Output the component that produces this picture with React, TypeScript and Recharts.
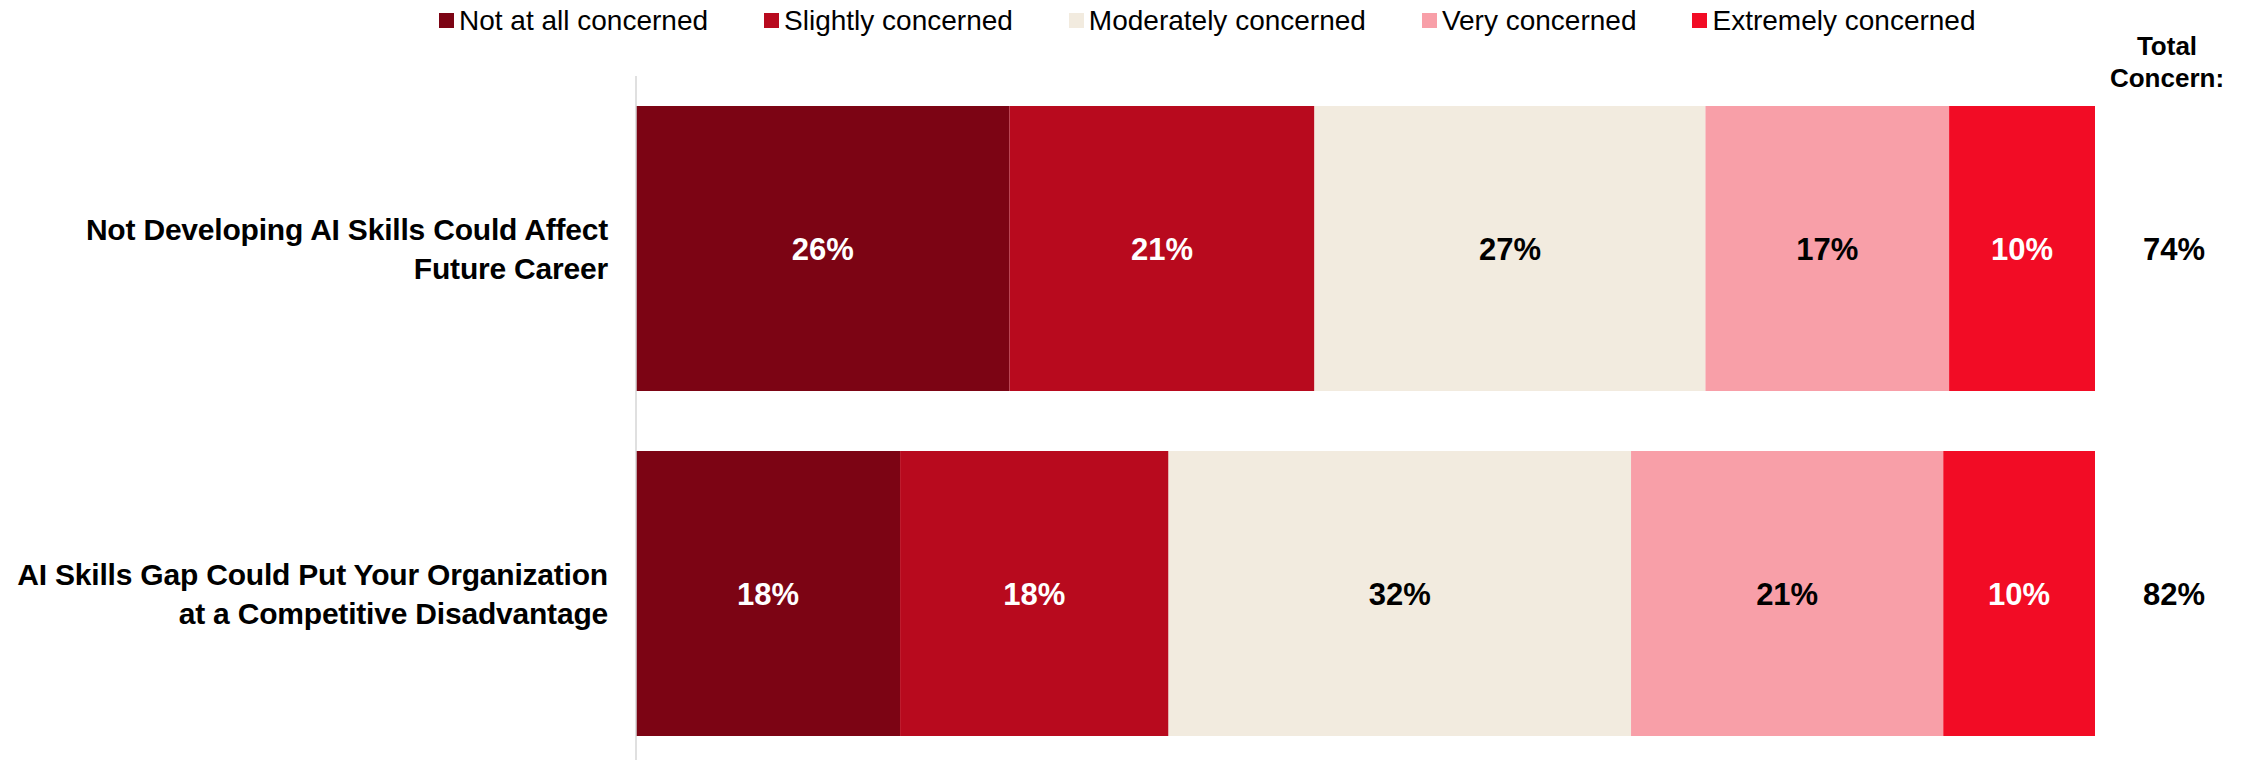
import React from 'react';
import { BarChart, Bar, XAxis, YAxis, LabelList } from 'recharts';

// survey questions (line breaks as in the slide)
const categories = [
  'Not Developing AI Skills Could Affect\nFuture Career',
  'AI Skills Gap Could Put Your Organization\nat a Competitive Disadvantage',
];

// shares in %
const notAtAll = [25.6, 18.1];
const slightly = [20.9, 18.4];
const moderately = [26.8, 31.7];
const very = [16.7, 21.4];
const extremely = [10.0, 10.4];
const totalConcern = [74, 82];

const series = [
  { key: 'notAtAll', name: 'Not at all concerned', color: '#7C0414', text: '#ffffff' },
  { key: 'slightly', name: 'Slightly concerned', color: '#B80A1E', text: '#ffffff' },
  { key: 'moderately', name: 'Moderately concerned', color: '#F2EBDF', text: '#000000' },
  { key: 'very', name: 'Very concerned', color: '#F89FA8', text: '#000000' },
  { key: 'extremely', name: 'Extremely concerned', color: '#F20C25', text: '#ffffff' },
];

const data = categories.map((name, i) => ({
  name,
  notAtAll: notAtAll[i],
  slightly: slightly[i],
  moderately: moderately[i],
  very: very[i],
  extremely: extremely[i],
  total: totalConcern[i],
}));

const FONT = '"Liberation Sans", Arial, Helvetica, sans-serif';

function CategoryTick({ x, y, payload }: any) {
  const lines = String(payload.value).split('\n');
  return (
    <text x={x} y={y} textAnchor="end" fontSize={30} fontWeight="bold" fill="#000" letterSpacing={-0.2}>
      {lines.map((line, i) => (
        <tspan key={i} x={x} dy={i === 0 ? -9 : 39}>{line}</tspan>
      ))}
    </text>
  );
}

export default function App() {
  return (
    <div
      style={{
        position: 'fixed',
        top: 0,
        left: 0,
        width: 2257,
        height: 760,
        overflow: 'hidden',
        background: '#fff',
        fontFamily: FONT,
      }}
    >
      {/* legend */}
      <div style={{ position: 'absolute', top: 0, left: 439, height: 41, display: 'flex', alignItems: 'center', gap: 56 }}>
        {series.map((s) => (
          <div key={s.key} style={{ display: 'flex', alignItems: 'center' }}>
            <span style={{ width: 15, height: 15, background: s.color, marginRight: 5, display: 'inline-block' }} />
            <span style={{ fontSize: 28, lineHeight: 1, color: '#000' }}>{s.name}</span>
          </div>
        ))}
      </div>

      <div style={{ position: 'absolute', top: 30, left: 2067, width: 200, textAlign: 'center', fontSize: 26, fontWeight: 'bold', lineHeight: '32px' }}>
        Total<br />Concern:
      </div>

      <BarChart
        width={2257}
        height={766}
        data={data}
        layout="vertical"
        margin={{ top: 76, right: 162, bottom: 0, left: 0 }}
        barCategoryGap={30}
      >
        <XAxis type="number" domain={[0, 100]} hide />
        <YAxis
          type="category"
          dataKey="name"
          width={636}
          axisLine={{ stroke: '#d6d6d6', strokeWidth: 1.5 }}
          tickLine={false}
          tickSize={0}
          tickMargin={28}
          tick={<CategoryTick />}
        />
        {series.map((s, idx) => (
          <Bar key={s.key} dataKey={s.key} name={s.name} stackId="a" fill={s.color} isAnimationActive={false}>
            <LabelList
              dataKey={s.key}
              position="center"
              fill={s.text}
              fontSize={31}
              fontWeight="bold"
              formatter={(v: any) => `${Math.round(Number(v))}%`}
            />
            {idx === series.length - 1 && (
              <LabelList
                dataKey="total"
                position="right"
                offset={48}
                fill="#000"
                fontSize={31}
                fontWeight="bold"
                formatter={(v: any) => `${v}%`}
              />
            )}
          </Bar>
        ))}
      </BarChart>
    </div>
  );
}
